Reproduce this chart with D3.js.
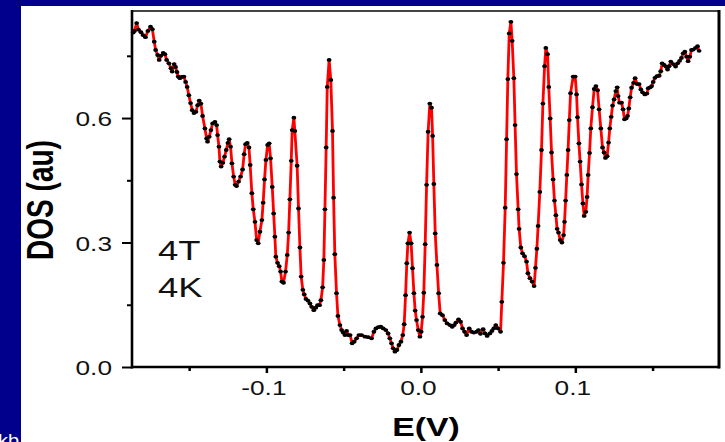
<!DOCTYPE html>
<html>
<head>
<meta charset="utf-8">
<script src="https://cdn.jsdelivr.net/npm/d3@7"></script>
<style>
  html, body { margin: 0; padding: 0; background: #00008c; }
  svg { display: block; }
  text { font-family: "Liberation Sans", Arial, sans-serif; }
</style>
</head>
<body>
<svg id="chart" width="725" height="442"></svg>
<script>
// Tunneling density of states vs. bias energy
const energy = [
  -0.1862,-0.1854,-0.1840,-0.1828,-0.1812,-0.1799,-0.1783,-0.1767,-0.1750,-0.1738,
  -0.1726,-0.1717,-0.1704,-0.1694,-0.1683,-0.1668,-0.1657,-0.1646,-0.1631,-0.1618,
  -0.1610,-0.1597,-0.1588,-0.1579,-0.1571,-0.1560,-0.1549,-0.1534,-0.1523,-0.1513,
  -0.1502,-0.1491,-0.1480,-0.1469,-0.1456,-0.1445,-0.1435,-0.1424,-0.1413,-0.1398,
  -0.1387,-0.1381,-0.1370,-0.1359,-0.1348,-0.1333,-0.1322,-0.1316,-0.1307,-0.1301,
  -0.1293,-0.1282,-0.1271,-0.1260,-0.1249,-0.1241,-0.1232,-0.1223,-0.1212,-0.1202,
  -0.1193,-0.1180,-0.1167,-0.1154,-0.1144,-0.1135,-0.1124,-0.1113,-0.1105,-0.1094,
  -0.1085,-0.1074,-0.1063,-0.1053,-0.1042,-0.1029,-0.1021,-0.1012,-0.1003,-0.0992,
  -0.0982,-0.0973,-0.0962,-0.0953,-0.0945,-0.0939,-0.0928,-0.0917,-0.0908,-0.0900,
  -0.0889,-0.0876,-0.0865,-0.0856,-0.0848,-0.0839,-0.0833,-0.0822,-0.0816,-0.0801,
  -0.0792,-0.0783,-0.0775,-0.0764,-0.0755,-0.0744,-0.0731,-0.0718,-0.0707,-0.0693,
  -0.0680,-0.0669,-0.0656,-0.0647,-0.0636,-0.0628,-0.0621,-0.0613,-0.0606,-0.0594,
  -0.0583,-0.0572,-0.0565,-0.0557,-0.0546,-0.0537,-0.0524,-0.0513,-0.0503,-0.0492,
  -0.0481,-0.0471,-0.0458,-0.0445,-0.0432,-0.0416,-0.0401,-0.0384,-0.0362,-0.0341,
  -0.0319,-0.0304,-0.0291,-0.0276,-0.0259,-0.0244,-0.0227,-0.0212,-0.0201,-0.0190,
  -0.0179,-0.0168,-0.0155,-0.0142,-0.0129,-0.0117,-0.0108,-0.0099,-0.0091,-0.0084,
  -0.0073,-0.0063,-0.0054,-0.0045,-0.0037,-0.0028,-0.0017,-0.0006, 0.0002, 0.0011,
   0.0019, 0.0028, 0.0037, 0.0047, 0.0058, 0.0069, 0.0076, 0.0084, 0.0093, 0.0104,
   0.0115, 0.0125, 0.0140, 0.0155, 0.0170, 0.0188, 0.0203, 0.0216, 0.0227, 0.0244,
   0.0257, 0.0270, 0.0283, 0.0296, 0.0313, 0.0328, 0.0343, 0.0361, 0.0373, 0.0386,
   0.0403, 0.0416, 0.0429, 0.0447, 0.0460, 0.0472, 0.0485, 0.0500, 0.0516, 0.0524,
   0.0535, 0.0546, 0.0555, 0.0563, 0.0572, 0.0583, 0.0591, 0.0602, 0.0610, 0.0619,
   0.0630, 0.0636, 0.0647, 0.0658, 0.0671, 0.0684, 0.0693, 0.0706, 0.0720, 0.0733,
   0.0742, 0.0751, 0.0759, 0.0770, 0.0781, 0.0790, 0.0801, 0.0809, 0.0820, 0.0828,
   0.0837, 0.0846, 0.0856, 0.0865, 0.0874, 0.0882, 0.0891, 0.0902, 0.0913, 0.0924,
   0.0930, 0.0937, 0.0945, 0.0953, 0.0961, 0.0969, 0.0986, 0.0999, 0.1008, 0.1014,
   0.1023, 0.1031, 0.1040, 0.1049, 0.1057, 0.1068, 0.1076, 0.1083, 0.1092, 0.1100,
   0.1111, 0.1122, 0.1133, 0.1144, 0.1154, 0.1165, 0.1176, 0.1186, 0.1195, 0.1206,
   0.1215, 0.1223, 0.1232, 0.1241, 0.1251, 0.1262, 0.1271, 0.1277, 0.1286, 0.1299,
   0.1309, 0.1318, 0.1329, 0.1338, 0.1346, 0.1355, 0.1364, 0.1377, 0.1387, 0.1400,
   0.1413, 0.1424, 0.1435, 0.1450, 0.1463, 0.1472, 0.1485, 0.1494, 0.1504, 0.1515,
   0.1528, 0.1543, 0.1553, 0.1562, 0.1575, 0.1586, 0.1597, 0.1607, 0.1618, 0.1633,
   0.1649, 0.1662, 0.1675, 0.1687, 0.1698, 0.1709, 0.1720, 0.1730, 0.1741, 0.1752,
   0.1763, 0.1778, 0.1791, 0.1801
];
const dos = [
  0.806,0.810,0.829,0.813,0.807,0.800,0.795,0.810,0.820,0.814,
  0.784,0.764,0.752,0.740,0.750,0.757,0.754,0.740,0.732,0.720,
  0.712,0.730,0.723,0.711,0.700,0.696,0.699,0.700,0.687,0.675,
  0.655,0.636,0.619,0.612,0.615,0.631,0.642,0.635,0.605,0.575,
  0.551,0.543,0.555,0.571,0.587,0.591,0.583,0.559,0.531,0.495,
  0.483,0.492,0.507,0.523,0.540,0.549,0.531,0.491,0.459,0.439,
  0.436,0.447,0.459,0.476,0.513,0.537,0.540,0.529,0.487,0.419,
  0.380,0.350,0.306,0.298,0.326,0.354,0.396,0.452,0.499,0.535,
  0.539,0.503,0.434,0.370,0.314,0.266,0.251,0.243,0.230,0.206,
  0.203,0.230,0.270,0.324,0.404,0.497,0.571,0.601,0.569,0.485,
  0.382,0.288,0.218,0.186,0.175,0.164,0.160,0.153,0.145,0.137,
  0.143,0.149,0.149,0.161,0.192,0.258,0.380,0.529,0.675,0.740,
  0.692,0.569,0.408,0.272,0.178,0.123,0.101,0.089,0.083,0.077,
  0.087,0.077,0.077,0.057,0.061,0.069,0.077,0.077,0.073,0.072,
  0.069,0.085,0.093,0.096,0.097,0.093,0.089,0.081,0.069,0.057,
  0.045,0.037,0.041,0.053,0.061,0.077,0.103,0.173,0.250,0.298,
  0.324,0.298,0.238,0.178,0.136,0.113,0.089,0.073,0.085,0.121,
  0.179,0.296,0.439,0.567,0.635,0.625,0.557,0.441,0.322,0.246,
  0.178,0.129,0.125,0.113,0.105,0.101,0.097,0.101,0.107,0.115,
  0.109,0.093,0.085,0.077,0.093,0.085,0.083,0.085,0.089,0.080,
  0.091,0.081,0.075,0.081,0.087,0.093,0.101,0.093,0.085,0.157,
  0.251,0.384,0.549,0.694,0.804,0.832,0.786,0.696,0.583,0.465,
  0.380,0.333,0.288,0.274,0.267,0.254,0.226,0.214,0.206,0.195,
  0.239,0.285,0.340,0.422,0.523,0.635,0.725,0.769,0.754,0.675,
  0.599,0.517,0.452,0.401,0.366,0.333,0.324,0.306,0.300,0.318,
  0.350,0.401,0.463,0.523,0.595,0.660,0.700,0.700,0.657,0.602,
  0.539,0.495,0.440,0.394,0.364,0.374,0.410,0.463,0.516,0.575,
  0.626,0.670,0.677,0.667,0.621,0.575,0.529,0.517,0.504,0.508,
  0.541,0.575,0.603,0.630,0.645,0.665,0.674,0.653,0.637,0.637,
  0.621,0.597,0.599,0.605,0.623,0.650,0.673,0.685,0.696,0.682,
  0.682,0.669,0.662,0.657,0.659,0.672,0.674,0.677,0.687,0.697,
  0.701,0.702,0.713,0.732,0.728,0.724,0.717,0.725,0.736,0.730,
  0.724,0.732,0.738,0.745,0.756,0.760,0.748,0.737,0.748,0.764,
  0.765,0.769,0.773,0.762
];
const xMajorTicks = [-0.1, 0.0, 0.1];
const xMinorTicks = [-0.15, -0.05, 0.05, 0.15];
const yMajorTicks = [0.0, 0.3, 0.6];
const yMinorTicks = [0.15, 0.45, 0.75];
const fieldLabel = "4T";
const tempLabel = "4K";

const points = energy.map((e, i) => ({ e, d: dos[i] }));

const svg = d3.select("#chart");
const W = 725, H = 442;

// page backdrop: navy frame around a white panel
svg.append("rect").attr("width", W).attr("height", H).attr("fill", "#00008c");
svg.append("rect").attr("x", 21).attr("y", 6).attr("width", W - 21).attr("height", H - 6).attr("fill", "#ffffff");
svg.append("text").attr("transform", "translate(-2,446) scale(1.25,1)").attr("fill", "#ffffff")
  .attr("font-size", 16).text("kb");

const plot = { left: 132, top: 11, right: 719, bottom: 367 };
const x = d3.scaleLinear().domain([-0.187, 0.193]).range([plot.left, plot.right]);
const y = d3.scaleLinear().domain([0, 0.858]).range([plot.bottom, plot.top]);

const TX = 1.25; // horizontal text stretch
const fmt = v => d3.format(".1f")(v).replace("\u2212", "-");

// y axis: major ticks with labels, then minor ticks
const gy = svg.append("g").attr("transform", `translate(${plot.left},0)`)
  .call(d3.axisLeft(y).tickValues(yMajorTicks).tickSize(10).tickPadding(0).tickFormat(fmt));
gy.selectAll(".tick line").attr("stroke", "#000").attr("stroke-width", 2);
gy.selectAll(".tick text")
  .attr("x", 0).attr("dy", "0.36em")
  .attr("transform", `translate(-20,0) scale(${TX},1)`)
  .attr("font-size", 21).attr("font-family", "Liberation Sans, Arial, sans-serif")
  .attr("fill", "#111");
gy.select(".domain").remove();
const gyMinor = svg.append("g").attr("transform", `translate(${plot.left},0)`)
  .call(d3.axisLeft(y).tickValues(yMinorTicks).tickSize(5).tickFormat(""));
gyMinor.selectAll(".tick line").attr("stroke", "#000").attr("stroke-width", 2);
gyMinor.select(".domain").remove();

// x axis
const gx = svg.append("g").attr("transform", `translate(0,${plot.bottom})`)
  .call(d3.axisBottom(x).tickValues(xMajorTicks).tickSize(6).tickPadding(0).tickFormat(fmt));
gx.selectAll(".tick line").attr("stroke", "#000").attr("stroke-width", 2.5);
gx.selectAll(".tick text")
  .attr("y", 0).attr("dy", 0)
  .attr("transform", `translate(-3,28) scale(${TX},1)`)
  .attr("font-size", 21).attr("font-family", "Liberation Sans, Arial, sans-serif")
  .attr("fill", "#111");
gx.select(".domain").remove();
const gxMinor = svg.append("g").attr("transform", `translate(0,${plot.bottom})`)
  .call(d3.axisBottom(x).tickValues(xMinorTicks).tickSize(4).tickFormat(""));
gxMinor.selectAll(".tick line").attr("stroke", "#000").attr("stroke-width", 2.5);
gxMinor.select(".domain").remove();

// plot frame
svg.append("line").attr("x1", plot.left).attr("x2", plot.right).attr("y1", plot.top).attr("y2", plot.top)
  .attr("stroke", "#444").attr("stroke-width", 2);
svg.append("line").attr("x1", plot.right).attr("x2", plot.right).attr("y1", plot.top - 1).attr("y2", plot.bottom + 1.5)
  .attr("stroke", "#000").attr("stroke-width", 3);
svg.append("line").attr("x1", plot.left).attr("x2", plot.left).attr("y1", plot.top - 1).attr("y2", plot.bottom + 1.5)
  .attr("stroke", "#000").attr("stroke-width", 2.6);
svg.append("line").attr("x1", plot.left - 1).attr("x2", plot.right + 1).attr("y1", plot.bottom).attr("y2", plot.bottom)
  .attr("stroke", "#000").attr("stroke-width", 2.6);

// data: red line with black markers
const line = d3.line().x(p => x(p.e)).y(p => y(p.d));
svg.append("path").datum(points).attr("d", line)
  .attr("fill", "none").attr("stroke", "#ff0000").attr("stroke-width", 2.8)
  .attr("stroke-linejoin", "round");
svg.append("g").selectAll("ellipse").data(points).join("ellipse")
  .attr("cx", p => x(p.e)).attr("cy", p => y(p.d))
  .attr("rx", 2.4).attr("ry", 1.9).attr("fill", "#000");

// annotations
svg.append("text").attr("transform", `translate(158,260) scale(1.3,1)`)
  .attr("font-size", 28).attr("fill", "#111").text(fieldLabel);
svg.append("text").attr("transform", `translate(158,297) scale(1.3,1)`)
  .attr("font-size", 28).attr("fill", "#111").text(tempLabel);

// axis titles
svg.append("text").attr("transform", `translate(426,436) scale(1.3,1)`)
  .attr("text-anchor", "middle").attr("font-size", 26).attr("font-weight", "bold")
  .attr("fill", "#000").text("E(V)");
svg.append("text").attr("transform", `translate(53,200) scale(1.3,1) rotate(-90)`)
  .attr("text-anchor", "middle").attr("font-size", 28).attr("font-weight", "bold")
  .attr("fill", "#000").text("DOS (au)");
</script>
</body>
</html>
